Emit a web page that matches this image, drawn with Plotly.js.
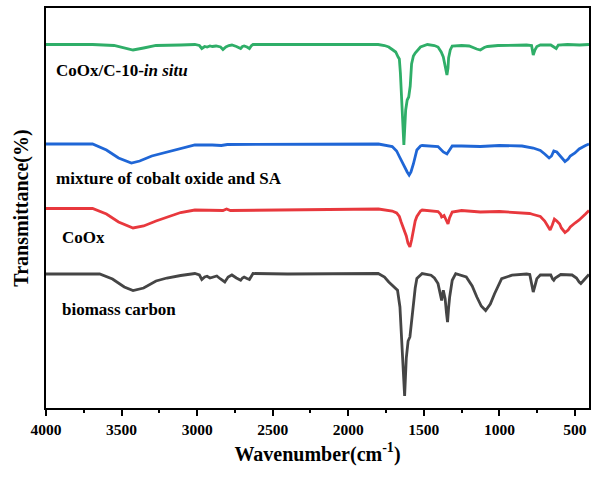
<!DOCTYPE html>
<html>
<head>
<meta charset="utf-8">
<script src="https://cdn.plot.ly/plotly-3.0.1.min.js"></script>
<style>html,body{margin:0;padding:0;background:#fff;}#chart{width:592px;height:477px;}</style>
</head>
<body>
<div id="chart"></div>
<script>
// Wavenumber (cm-1) and offset transmittance (arbitrary, offset per sample)
const greenWn = [4000,3692,3550,3482,3424,3354,3272,3109,3015,2985,2969,2950,2934,2915,2899,2875,2845,2829,2810,2790,2770,2740,2712,2700,2689,2670,2654,2640,2630,2400,2000,1802,1760,1732,1709,1686,1670,1662,1655,1645,1632,1620,1610,1600,1590,1581,1569,1557,1522,1476,1430,1406,1385,1371,1360,1347,1340,1336,1325,1312,1250,1200,1150,1126,1100,1079,1009,900,820,787,776,765,752,729,660,624,610,550,470,407];
const greenT  = [363.5,363.5,362.5,360,358,360,362.5,363,363.5,362.5,359.5,361.5,361,362,361.5,362,361,358.5,361,362.5,363,361.5,359.5,361.5,362,361,359.5,362.5,363.5,363.5,363.5,363.5,362.5,361,358.5,356,351,349,335,300,263,298,308,311,322,344,352,355,361,363.5,362.5,361,356,351,342,333,340,350,358,362,362.5,362,359,358,360.5,361.5,362.5,363,363,362.5,353,358,361.5,363,363,359.5,363,363.5,363,363.5];

const blueWn = [4000,3692,3600,3520,3435,3380,3300,3200,3109,3015,2900,2840,2800,1800,1709,1680,1662,1645,1627,1610,1597,1585,1569,1557,1546,1522,1511,1406,1382,1371,1347,1330,1312,1250,1126,1000,850,776,729,700,671,655,640,620,608,590,566,545,531,500,472,430,407];
const blueT  = [264,264,258,250,245,247,252,256,259.5,263,263,262.5,263.5,264,261.5,257,251.5,246,241,236,233,236,244,252,258,262,262.5,261.5,258,256,254,258,262,262,261.5,262.5,262,260,257.5,254,250,252,257,256,254,250,246.5,249,252,255,259,262.5,264];

const redWn = [4000,3692,3600,3520,3424,3354,3272,3200,3109,3015,2829,2805,2780,1800,1709,1680,1662,1650,1639,1616,1605,1592,1581,1569,1557,1546,1522,1511,1406,1390,1382,1366,1355,1347,1340,1330,1312,1250,1126,1000,800,776,729,700,671,664,650,636,620,601,590,566,545,531,500,472,430,407];
const redT  = [199.5,199.5,194,186,180,182,187,191,195.5,198,197.5,199,197.5,199,197,195,191.5,186,181.5,172,165,161,168,178,187,191.5,197,198,196.5,194,191,192.5,189,185,184,190,196,197.5,196,196.5,194.5,193.5,191.5,187,180,178,183,189,187,184,180,175.5,178,181,185,188,194,197.5];

const blackWn = [4000,3645,3560,3482,3424,3354,3272,3200,3109,3015,2985,2969,2950,2934,2915,2899,2870,2845,2817,2795,2770,2740,2712,2700,2689,2670,2654,2630,2400,1802,1760,1732,1700,1674,1658,1644,1627,1616,1604,1592,1581,1569,1557,1546,1511,1452,1430,1406,1382,1371,1359,1350,1343,1336,1329,1312,1289,1219,1180,1149,1120,1091,1060,1032,985,916,820,799,786,776,765,752,729,660,648,640,630,594,519,490,472,461,440,420,407];
const blackT  = [134,134,129,121,117.5,120,127,130,132.5,134.5,133,128.5,131,131.8,130,130.5,132,129,126,131,133,130,127.7,130,131,129.5,128.5,134.5,134,134.5,131,126,121,117.7,101,57,12,50,67,71,88,104,120,129.5,134.5,132.8,130,124.4,107.6,117.7,109.3,95,85.8,100,111,127.7,134.4,131,122,111,102,97.5,104,114.3,129.4,132.8,134,133.5,125,116,122,129.4,133,133,129,127.7,130,133.5,133,130,126,124.4,128,131,133.5];

const labels = ["CoOx/C-10-<i>in situ</i>", "mixture of cobalt oxide and SA", "CoOx", "biomass carbon"];
const colors = ["#2fae68", "#1f66d6", "#e8383d", "#454545"];
const xTickVals = [4000,3500,3000,2500,2000,1500,1000,500];

const series = [[greenWn, greenT],[blueWn, blueT],[redWn, redT],[blackWn, blackT]];
const traces = series.map((s, i) => ({
  x: s[0], y: s[1], type: 'scatter', mode: 'lines',
  line: {color: colors[i], width: 2.8}, showlegend: false, hoverinfo: 'skip'
}));

const font = {family: '"Liberation Serif", "Times New Roman", serif', color: '#000'};
const labelPos = [[3948, 338], [3948, 230], [3906, 171], [3906, 99]];
const annotations = labels.map((t, i) => ({
  x: labelPos[i][0], y: labelPos[i][1], xref: 'x', yref: 'y',
  text: '<b>' + t + '</b>', showarrow: false, xanchor: 'left', yanchor: 'middle',
  font: Object.assign({}, font, {size: 17})
}));

const layout = {
  width: 592, height: 477,
  margin: {l: 46, r: 3, t: 8, b: 69},
  paper_bgcolor: '#fff', plot_bgcolor: '#fff',
  font: font,
  xaxis: {
    range: [4000, 407], showgrid: false, zeroline: false,
    showline: true, linecolor: '#000', linewidth: 2, mirror: true,
    ticks: 'outside', ticklen: 6, tickwidth: 2, tickcolor: '#000',
    tickvals: xTickVals, ticktext: xTickVals.map(v => '<b>' + v + '</b>'),
    tickfont: Object.assign({}, font, {size: 15.5}),
    minor: {dtick: 250, ticks: 'outside', ticklen: 3, tickwidth: 2, tickcolor: '#000', showgrid: false},
    title: {text: '<b>Wavenumber(cm<sup>-1</sup>)</b>', font: Object.assign({}, font, {size: 20}), standoff: 10}
  },
  yaxis: {
    range: [0, 400], showgrid: false, zeroline: false,
    showline: true, linecolor: '#000', linewidth: 2, mirror: true,
    showticklabels: false, ticks: '',
    title: {text: '<b>Transmittance(%)</b>', font: Object.assign({}, font, {size: 20}), standoff: 10}
  },
  annotations: annotations
};

Plotly.newPlot('chart', traces, layout, {staticPlot: true, displayModeBar: false});
</script>
</body>
</html>
